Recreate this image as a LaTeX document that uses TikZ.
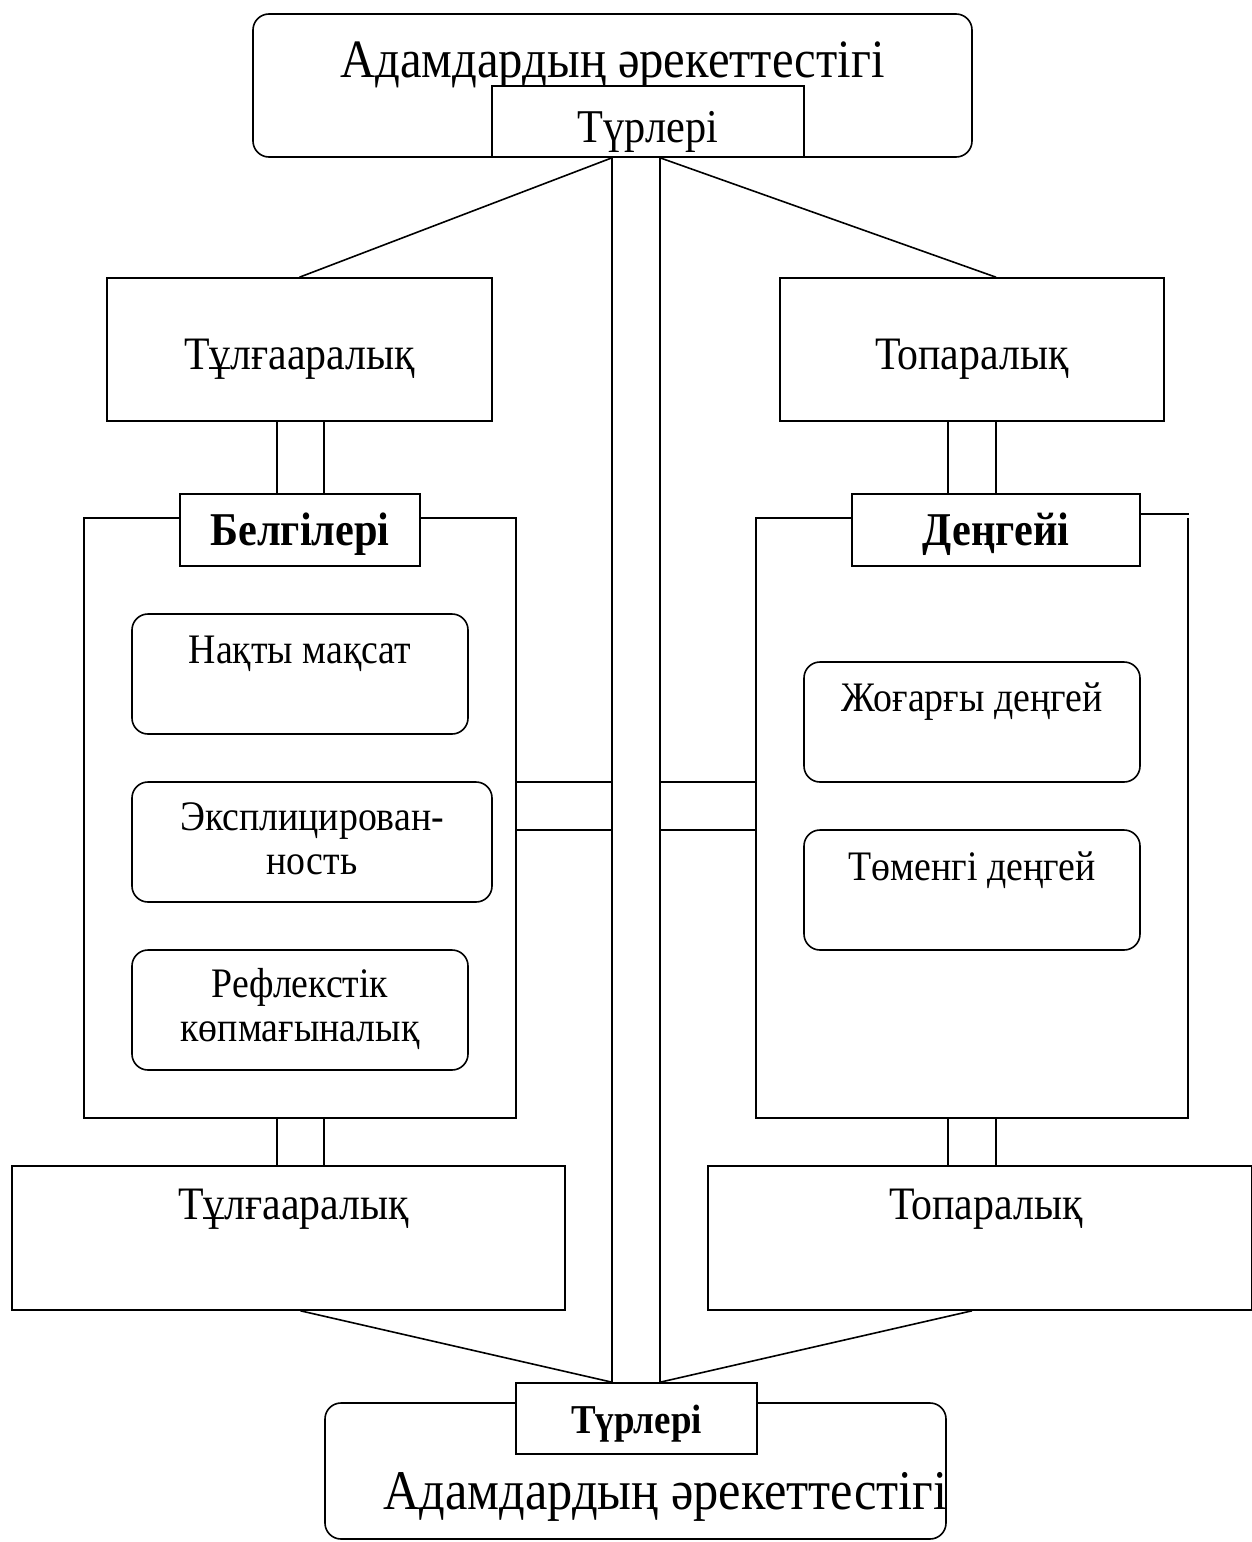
\documentclass[tikz,border=0pt]{standalone}
\usepackage{fontspec}
\setmainfont{Liberation Serif}[FakeStretch=0.9]

\begin{document}
\begin{tikzpicture}[x=1pt, y=-1pt, line width=1.6pt,
  sq/.style={draw, rectangle, inner sep=0pt, fill=white},
  rnd/.style={draw, rounded corners=16pt, inner sep=0pt, fill=white},
  big/.style={font=\fontsize{54}{60}\selectfont},
  bigger/.style={font=\fontsize{56}{62}\selectfont},
  mid/.style={font=\fontsize{46.5}{52}\selectfont},
  kindtxt/.style={font=\fontsize{47}{52}\selectfont},
  hd/.style={font=\bfseries\fontsize{47}{52}\selectfont},
  hdsm/.style={font=\bfseries\fontsize{41}{46}\selectfont},
  txt/.style={font=\fontsize{42}{44}\selectfont, align=center}
]
\useasboundingbox (0,0) rectangle (1251,1542);
\coordinate (axl) at (612,0);
\coordinate (axr) at (660,0);

% upper part
\node[rnd, minimum width=719pt, minimum height=143pt,
  label={[big, anchor=base, yshift=-64pt]north:Адамдардың әрекеттестігі}] (act1) at (612.5,85.5) {};
\node[sq, minimum width=312pt, minimum height=71pt,
  label={[kindtxt, anchor=base, yshift=-57pt]north:Түрлері}] (kind1) at (648,121.5) {};
\node[sq, minimum width=385pt, minimum height=143pt,
  label={[mid, anchor=base, yshift=-92pt]north:Тұлғааралық}] (pers1) at (299.5,349.5) {};
\node[sq, minimum width=384pt, minimum height=143pt,
  label={[mid, anchor=base, yshift=-92pt]north:Топаралық}] (grp1) at (972,349.5) {};
\node[sq, minimum width=47pt, minimum height=73pt] (lnk1) at (300.5,457.5) {};
\node[sq, minimum width=48pt, minimum height=73pt] (lnk2) at (972,457.5) {};

% left frame
\node[sq, minimum width=432pt, minimum height=600pt] (lframe) at (300,818) {};
\node[sq, minimum width=240pt, minimum height=72pt,
  label={[hd, anchor=base, yshift=-52pt]north:Белгілері}] (sign) at (300,530) {};
\node[rnd, minimum width=336pt, minimum height=120pt,
  label={[txt, anchor=base, yshift=-50pt]north:Нақты мақсат}] (sign1) at (300,674) {};
\node[rnd, minimum width=360pt, minimum height=120pt,
  label={[txt, anchor=base, yshift=-93pt]north:Эксплицирован-\\ность}] (sign2) at (312,842) {};
\node[rnd, minimum width=336pt, minimum height=120pt,
  label={[txt, anchor=base, yshift=-92pt]north:Рефлекстік\\көпмағыналық}] (sign3) at (300,1010) {};

% right frame
\node[sq, minimum width=288pt, minimum height=72pt,
  label={[hd, anchor=base, yshift=-52pt]north:Деңгейі}] (level) at (996,530) {};
\draw ([yshift=12pt]level.west) -| (756,1118) -| (1188,518);
\draw ([yshift=16pt]level.east) -- ++(48,0);
\node[rnd, minimum width=336pt, minimum height=120pt,
  label={[txt, anchor=base, yshift=-50pt]north:Жоғарғы деңгей}] (level1) at (972,722) {};
\node[rnd, minimum width=336pt, minimum height=120pt,
  label={[txt, anchor=base, yshift=-51pt]north:Төменгі деңгей}] (level2) at (972,890) {};

% bridges
\node[sq, minimum width=96pt, minimum height=48pt] (brl) at (564,806) {};
\node[sq, minimum width=96pt, minimum height=48pt] (brr) at (708,806) {};

% lower part
\node[sq, minimum width=47pt, minimum height=48pt] (lnk3) at (300.5,1142) {};
\node[sq, minimum width=48pt, minimum height=48pt] (lnk4) at (972,1142) {};
\node[sq, minimum width=553pt, minimum height=144pt,
  label={[mid, anchor=base, yshift=-54pt, xshift=5pt]north:Тұлғааралық}] (pers2) at (288.5,1238) {};
\node[sq, minimum width=544pt, minimum height=144pt,
  label={[mid, anchor=base, yshift=-54pt, xshift=6pt]north:Топаралық}] (grp2) at (980,1238) {};
\node[rnd, minimum width=621pt, minimum height=136pt,
  label={[bigger, anchor=base, yshift=-107pt, xshift=30pt]north:Адамдардың әрекеттестігі}] (act2) at (635.5,1471) {};
\node[sq, minimum width=241pt, minimum height=71pt,
  label={[hdsm, anchor=base, yshift=-51pt]north:Түрлері}] (kind2) at (636.5,1418.5) {};

% connectors
\draw (kind1.south -| axl) -- (kind2.north -| axl);
\draw (kind1.south -| axr) -- (kind2.north -| axr);
\draw (kind1.south -| axl) -- (pers1.north);
\draw (kind1.south -| axr) -- ([xshift=24pt]grp1.north);
\draw (pers2.south -| lnk3) -- (kind2.north -| axl);
\draw (grp2.south -| lnk4) -- (kind2.north -| axr);
\end{tikzpicture}
\end{document}
